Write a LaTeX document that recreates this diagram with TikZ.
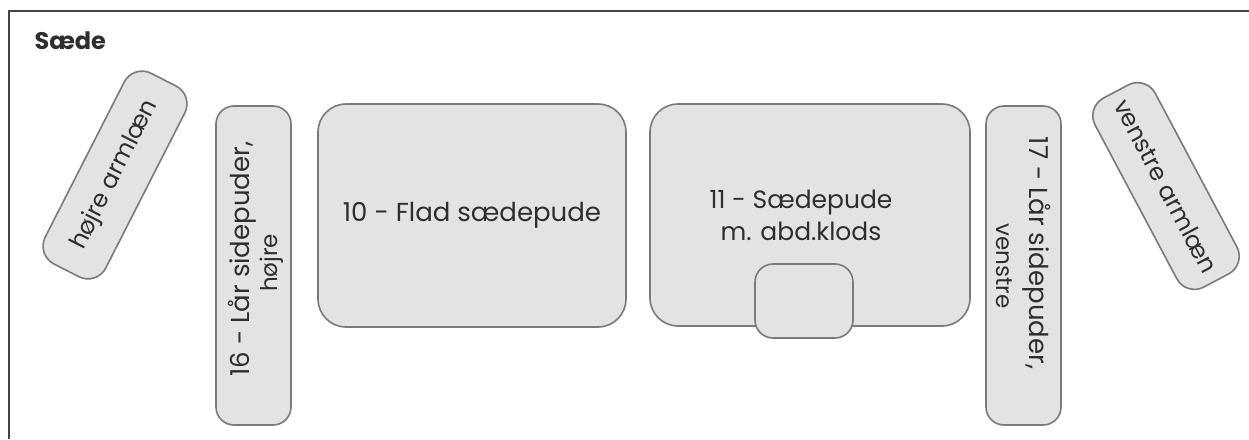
\documentclass[tikz,border=0pt]{standalone}
\usepackage{fontspec}
\setmainfont{Poppins}
\definecolor{boxfill}{HTML}{E3E3E3}
\definecolor{boxline}{HTML}{7A7A7A}
\definecolor{txt}{HTML}{2E2E2E}
\definecolor{frame}{HTML}{444444}
\begin{document}
\begin{tikzpicture}[x=1pt,y=-1pt,
  pad/.style={draw=boxline, fill=boxfill, line width=1.6pt, rounded corners=20pt,
    text=txt, align=center, inner sep=0pt, font=\fontsize{26}{30}\selectfont},
  armfont/.style={font=\fontsize{24}{28}\selectfont},
  sidefont/.style={text=txt, inner sep=0pt, font=\fontsize{26}{30}\selectfont},
  sidesmall/.style={text=txt, inner sep=0pt, font=\fontsize{23}{27}\selectfont}]
\useasboundingbox (0,0) rectangle (1249,439);
\draw[frame, line width=1.2pt] (9,439) -- (9,11) -- (1249,11);
\node[anchor=west, text=txt, font=\fontsize{24}{28}\selectfont\bfseries] (title) at (31,41) {Sæde};

\node[pad, armfont, minimum width=214pt, minimum height=68pt, rotate=63] (rarm) at (115,175) {højre armlæn};
\node[pad, armfont, minimum width=214pt, minimum height=68pt, rotate=-62] (larm) at (1166,186) {venstre armlæn};

\node[pad, minimum width=75pt, minimum height=319pt, rounded corners=18pt] (p16) at (253.5,265.5) {};
\node[sidefont, rotate=90] (t16) at (242,259) {16 - Lår sidepuder,};
\node[sidesmall, rotate=90] (t16b) at (272,263) {højre};

\node[pad, minimum width=308pt, minimum height=223pt, rounded corners=28pt] (p10) at (472,215.5) {10 - Flad sædepude};

\node[pad, minimum width=320pt, minimum height=222pt, rounded corners=28pt] (p11) at (810,215) {};
\node[text=txt, align=center, font=\fontsize{25}{32}\selectfont] (t11) at (801,215) {11 - Sædepude\\m. abd.klods};
\node[pad, minimum width=98pt, minimum height=74pt, rounded corners=18pt] (klods) at (804,301) {};

\node[pad, minimum width=75pt, minimum height=319pt, rounded corners=18pt] (p17) at (1023.5,265.5) {};
\node[sidefont, rotate=-90] (t17) at (1037,253) {17 - Lår sidepuder,};
\node[sidesmall, rotate=-90] (t17b) at (1004,266) {venstre};
\end{tikzpicture}
\end{document}
